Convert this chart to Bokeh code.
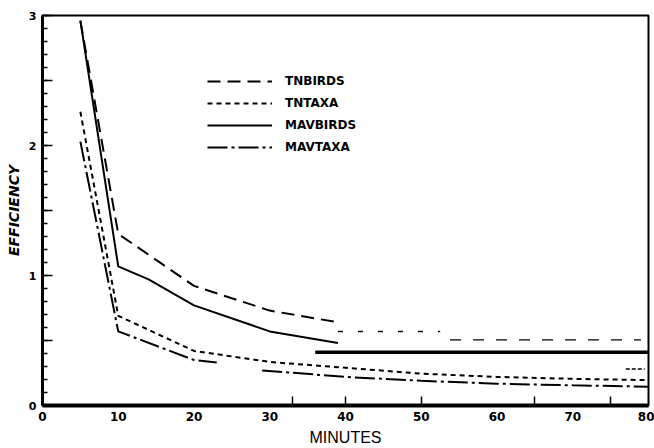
from bokeh.plotting import figure
from bokeh.models import Range1d, FixedTicker, Legend, LegendItem
from bokeh.embed import file_html
from bokeh.resources import INLINE

# ---- data ----
tnbirds_x = [5, 10, 20, 30, 39]
tnbirds_y = [2.96, 1.32, 0.92, 0.73, 0.64]
tnbirds_asym1_x = [39, 52.5]
tnbirds_asym1_y = [0.57, 0.57]
tnbirds_asym2_x = [53.8, 79]
tnbirds_asym2_y = [0.505, 0.505]

tntaxa_x = [5, 10, 20, 30, 40, 50, 60, 70, 80]
tntaxa_y = [2.26, 0.69, 0.42, 0.335, 0.29, 0.245, 0.22, 0.205, 0.195]
tntaxa_asym_x = [77, 79.5]
tntaxa_asym_y = [0.28, 0.28]

mavbirds_x = [5, 10, 14, 20, 30, 39]
mavbirds_y = [2.96, 1.07, 0.97, 0.77, 0.57, 0.48]
mavbirds_asym_x = [36, 80]
mavbirds_asym_y = [0.41, 0.41]

mavtaxa1_x = [5, 10, 20, 23]
mavtaxa1_y = [2.03, 0.57, 0.35, 0.33]
mavtaxa2_x = [29, 40, 50, 60, 70, 80]
mavtaxa2_y = [0.27, 0.22, 0.19, 0.168, 0.155, 0.145]

x_ticks = [0, 10, 20, 30, 40, 50, 60, 70, 80]
x_minor = [33, 40, 50, 65, 75]
y_ticks = [0, 0.5, 1, 1.5, 2, 2.5, 3]
y_minor = [i / 10 for i in range(0, 31)]
y_labels = {0: "0", 0.5: "", 1: "1", 1.5: "", 2: "2", 2.5: "", 3: "3"}

p = figure(width=654, height=448, output_backend="svg", toolbar_location=None,
           x_range=Range1d(0, 80), y_range=Range1d(0, 3),
           min_border_left=42, min_border_right=6, min_border_top=15, min_border_bottom=41)
p.background_fill_color = "white"
p.border_fill_color = "white"
p.xgrid.visible = False
p.ygrid.visible = False
p.outline_line_color = "black"
p.outline_line_width = 2

FONT = "DejaVu Sans"
K = "black"

xa = p.xaxis[0]
xa.ticker = FixedTicker(ticks=x_ticks, minor_ticks=x_minor)
xa.major_tick_in = 0
xa.major_tick_out = 0
xa.minor_tick_in = 9
xa.minor_tick_out = 0
xa.minor_tick_line_width = 1.5
xa.minor_tick_line_color = K
xa.axis_line_width = 4
xa.axis_line_color = K
xa.major_label_text_font = FONT
xa.major_label_text_font_style = "bold"
xa.major_label_text_font_size = "12px"
xa.major_label_text_color = K
xa.major_label_standoff = 6
xa.axis_label = "MINUTES"
xa.axis_label_text_font = "Liberation Sans"
xa.axis_label_text_font_style = "normal"
xa.axis_label_text_font_size = "16px"
xa.axis_label_text_color = K
xa.axis_label_standoff = 5

ya = p.yaxis[0]
ya.ticker = FixedTicker(ticks=y_ticks, minor_ticks=y_minor)
ya.major_label_overrides = y_labels
ya.major_tick_in = 10
ya.major_tick_out = 0
ya.minor_tick_in = 5
ya.minor_tick_out = 0
ya.major_tick_line_width = 1.5
ya.minor_tick_line_width = 1.5
ya.major_tick_line_color = K
ya.minor_tick_line_color = K
ya.axis_line_width = 3
ya.axis_line_color = K
ya.major_label_text_font = FONT
ya.major_label_text_font_style = "bold"
ya.major_label_text_font_size = "11px"
ya.major_label_text_color = K
ya.major_label_standoff = 6
ya.axis_label = "EFFICIENCY"
ya.axis_label_text_font = FONT
ya.axis_label_text_font_style = "bold italic"
ya.axis_label_text_font_size = "14px"
ya.axis_label_text_color = K
ya.axis_label_standoff = 4

r_tnb = p.line(tnbirds_x, tnbirds_y, line_color=K, line_width=2, line_dash="13 7")
p.line(tnbirds_asym1_x, tnbirds_asym1_y, line_color=K, line_width=1.5, line_dash="5 15")
p.line(tnbirds_asym2_x, tnbirds_asym2_y, line_color=K, line_width=1.2, line_dash="11 12")

r_tnt = p.line(tntaxa_x, tntaxa_y, line_color=K, line_width=2, line_dash="5 4")
p.line(tntaxa_asym_x, tntaxa_asym_y, line_color=K, line_width=1.5, line_dash="4 2")

r_mvb = p.line(mavbirds_x, mavbirds_y, line_color=K, line_width=2)
p.line(mavbirds_asym_x, mavbirds_asym_y, line_color=K, line_width=3.5)

r_mvt = p.line(mavtaxa1_x, mavtaxa1_y, line_color=K, line_width=2, line_dash="20 4 3 4")
p.line(mavtaxa2_x, mavtaxa2_y, line_color=K, line_width=2, line_dash="20 4 3 4")

legend = Legend(items=[
    LegendItem(label="TNBIRDS", renderers=[r_tnb]),
    LegendItem(label="TNTAXA", renderers=[r_tnt]),
    LegendItem(label="MAVBIRDS", renderers=[r_mvb]),
    LegendItem(label="MAVTAXA", renderers=[r_mvt]),
], location=(165, 248))
legend.border_line_color = None
legend.background_fill_alpha = 0
legend.padding = 0
legend.margin = 0
legend.spacing = 2
legend.glyph_width = 65
legend.glyph_height = 20
legend.label_height = 20
legend.label_standoff = 13
legend.label_text_font = FONT
legend.label_text_font_style = "bold"
legend.label_text_font_size = "12px"
legend.label_text_color = K
p.add_layout(legend, "center")

open("out.html", "w").write(file_html(p, INLINE))
